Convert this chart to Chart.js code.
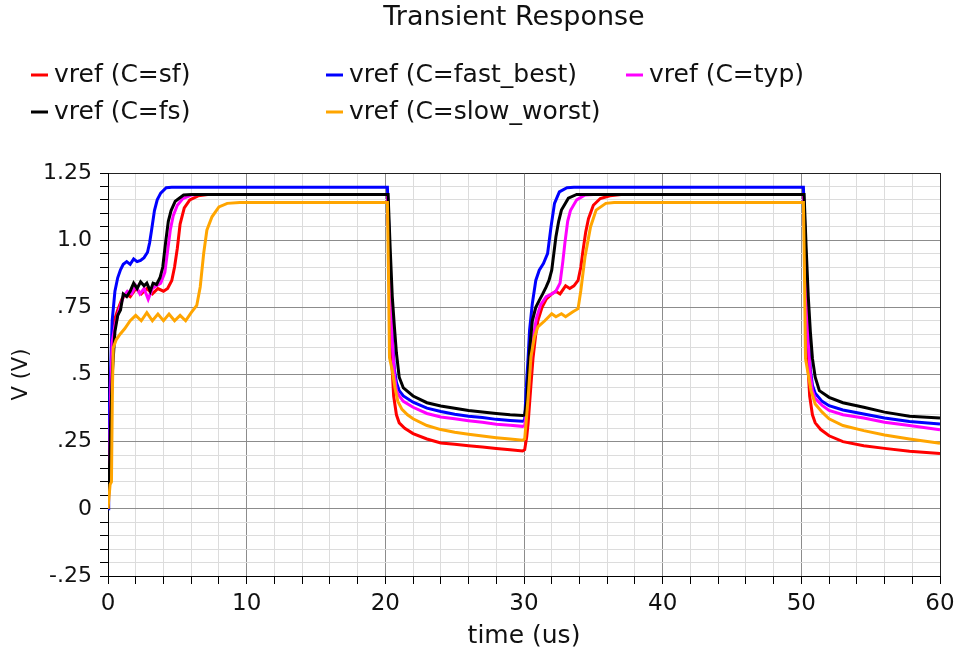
<!DOCTYPE html>
<html>
<head>
<meta charset="utf-8">
<title>Transient Response</title>
<script src="https://cdn.jsdelivr.net/npm/chart.js@4.4.1/dist/chart.umd.min.js"></script>
<style>
  html, body { margin: 0; padding: 0; background: #fff; }
  #wrap { width: 957px; height: 657px; }
</style>
</head>
<body>
<div id="wrap"><canvas id="tranChart" width="957" height="657"></canvas></div>
<script>
// corner names, same order as the datasets below
var corners = ['sf', 'fast_best', 'typ', 'fs', 'slow_worst'];
var cornerColors = ['#ff0000', '#0000ff', '#ff00ff', '#000000', '#ffa500'];

// vref waveforms, [time (us), volts]
var vrefSf = [
    [0, 0], [0.1, 0.12], [0.2, 0.38], [0.3, 0.62], [0.45, 0.70], [0.7, 0.74], [1.0, 0.78], [1.3, 0.80],
    [1.6, 0.79], [2.0, 0.82], [2.4, 0.80], [2.8, 0.82], [3.2, 0.80], [3.6, 0.82], [4.0, 0.81], [4.3, 0.82],
    [4.6, 0.85], [4.8, 0.90], [5.0, 0.97], [5.2, 1.06], [5.5, 1.12], [5.9, 1.15], [6.5, 1.165], [7.2, 1.17],
    [20.15, 1.17], [20.25, 1.0], [20.35, 0.75], [20.45, 0.56], [20.6, 0.42], [20.8, 0.35], [21.0, 0.32],
    [21.4, 0.30], [22, 0.28], [23, 0.26], [24, 0.245], [25, 0.24], [26, 0.235], [27, 0.23], [28, 0.225],
    [29, 0.22], [29.9, 0.215],
    [30.05, 0.22], [30.2, 0.27], [30.3, 0.32], [30.5, 0.46], [30.65, 0.56], [30.85, 0.65], [31.0, 0.70],
    [31.3, 0.75], [31.6, 0.78], [32.0, 0.80], [32.3, 0.81], [32.6, 0.80], [33.0, 0.83], [33.3, 0.82],
    [33.6, 0.83], [33.9, 0.85], [34.1, 0.90], [34.25, 0.96], [34.45, 1.03], [34.65, 1.08], [35.0, 1.13],
    [35.5, 1.155], [36.2, 1.165], [37, 1.17],
    [50.15, 1.17], [50.25, 1.0], [50.35, 0.75], [50.45, 0.56], [50.6, 0.42], [50.8, 0.35], [51.0, 0.32],
    [51.4, 0.295], [52, 0.272], [53, 0.25], [54.5, 0.235], [56, 0.225], [57.8, 0.214], [60, 0.206]
];

var vrefFastBest = [
    [0, 0], [0.05, 0.27], [0.15, 0.45], [0.3, 0.70], [0.5, 0.81], [0.7, 0.86], [0.9, 0.89], [1.1, 0.91],
    [1.35, 0.92], [1.6, 0.91], [1.85, 0.93], [2.1, 0.92], [2.35, 0.925], [2.6, 0.935], [2.85, 0.955],
    [3.0, 0.99], [3.15, 1.04], [3.35, 1.11], [3.55, 1.15], [3.8, 1.175], [4.2, 1.195], [4.6, 1.197],
    [20.15, 1.197], [20.25, 1.05], [20.35, 0.82], [20.5, 0.64], [20.65, 0.52], [20.8, 0.47], [21.0, 0.44],
    [21.3, 0.42], [22, 0.397], [23, 0.375], [24, 0.362], [25, 0.352], [26, 0.345], [27, 0.34], [28, 0.333],
    [29, 0.329], [29.9, 0.326],
    [30.05, 0.33], [30.15, 0.44], [30.3, 0.565], [30.4, 0.664], [30.6, 0.764], [30.85, 0.85], [31.1, 0.888],
    [31.4, 0.913], [31.7, 0.95], [31.95, 1.05], [32.2, 1.137], [32.55, 1.18], [33.1, 1.195], [33.6, 1.197],
    [50.15, 1.197], [50.25, 1.05], [50.35, 0.82], [50.5, 0.64], [50.65, 0.52], [50.8, 0.46], [51, 0.43],
    [51.5, 0.40], [52, 0.384], [53, 0.368], [54.5, 0.353], [56, 0.338], [57.8, 0.325], [60, 0.316]
];

var vrefTyp = [
    [0, 0], [0.1, 0.15], [0.2, 0.45], [0.3, 0.62], [0.5, 0.68], [0.8, 0.74], [1.1, 0.79], [1.4, 0.81],
    [1.7, 0.80], [2.0, 0.83], [2.3, 0.80], [2.6, 0.82], [2.9, 0.78], [3.2, 0.82], [3.5, 0.83], [3.8, 0.84],
    [4.1, 0.88], [4.3, 0.96], [4.5, 1.04], [4.7, 1.09], [5.0, 1.13], [5.4, 1.155], [6.0, 1.168], [6.5, 1.17],
    [20.15, 1.17], [20.25, 1.0], [20.35, 0.8], [20.5, 0.62], [20.65, 0.5], [20.8, 0.44], [21.0, 0.42],
    [21.3, 0.40], [22, 0.378], [23, 0.355], [24, 0.342], [25, 0.335], [26, 0.328], [27, 0.322], [28, 0.315],
    [29, 0.311], [29.9, 0.307],
    [30.05, 0.31], [30.2, 0.37], [30.35, 0.47], [30.5, 0.565], [30.7, 0.65], [30.9, 0.71], [31.2, 0.76],
    [31.6, 0.79], [32.0, 0.80], [32.3, 0.81], [32.6, 0.84], [32.8, 0.92], [32.95, 0.99], [33.15, 1.07],
    [33.35, 1.11], [33.8, 1.15], [34.4, 1.168], [35, 1.17],
    [50.15, 1.17], [50.25, 1.0], [50.35, 0.8], [50.5, 0.62], [50.65, 0.5], [50.8, 0.44], [51, 0.41],
    [51.5, 0.385], [52, 0.366], [53, 0.35], [54.5, 0.338], [56, 0.322], [57.8, 0.31], [60, 0.294]
];

var vrefFs = [
    [0, 0], [0.1, 0.14], [0.2, 0.35], [0.33, 0.52], [0.5, 0.66], [0.7, 0.72], [0.9, 0.74], [1.1, 0.80],
    [1.35, 0.79], [1.6, 0.81], [1.85, 0.84], [2.1, 0.82], [2.35, 0.845], [2.6, 0.83], [2.8, 0.84],
    [3.05, 0.81], [3.25, 0.84], [3.5, 0.835], [3.75, 0.86], [3.95, 0.90], [4.15, 0.99], [4.35, 1.07],
    [4.55, 1.11], [4.85, 1.145], [5.45, 1.168], [6, 1.17],
    [20.2, 1.17], [20.35, 0.97], [20.5, 0.79], [20.65, 0.68], [20.8, 0.58], [21, 0.49], [21.3, 0.45],
    [22, 0.42], [23, 0.395], [24, 0.383], [25, 0.374], [26, 0.366], [27, 0.36], [28, 0.355], [29, 0.35],
    [29.9, 0.347],
    [30.05, 0.35], [30.2, 0.40], [30.4, 0.59], [30.6, 0.70], [30.85, 0.75], [31.1, 0.776], [31.35, 0.80],
    [31.6, 0.826], [31.8, 0.85], [32.0, 0.888], [32.15, 0.95], [32.3, 1.012], [32.5, 1.07], [32.7, 1.112],
    [33.2, 1.156], [33.8, 1.17],
    [50.2, 1.17], [50.35, 0.97], [50.5, 0.79], [50.65, 0.66], [50.8, 0.56], [51, 0.49], [51.3, 0.44],
    [52, 0.415], [53, 0.395], [54.5, 0.378], [56, 0.36], [57.8, 0.345], [60, 0.338]
];

var vrefSlowWorst = [
    [0, 0], [0.15, 0.09], [0.25, 0.10], [0.32, 0.45], [0.38, 0.60], [0.6, 0.63], [0.87, 0.65], [1.2, 0.67],
    [1.6, 0.70], [2.0, 0.72], [2.4, 0.70], [2.8, 0.73], [3.2, 0.70], [3.6, 0.725], [4.0, 0.70], [4.4, 0.725],
    [4.8, 0.70], [5.2, 0.72], [5.6, 0.70], [6.0, 0.73], [6.4, 0.757], [6.65, 0.826], [6.9, 0.951],
    [7.13, 1.037], [7.5, 1.087], [8.0, 1.124], [8.6, 1.137], [9.5, 1.14],
    [20.15, 1.14], [20.22, 0.90], [20.3, 0.563], [20.5, 0.515], [20.7, 0.45], [20.9, 0.40], [21.2, 0.37],
    [21.6, 0.35], [22, 0.335], [23, 0.31], [24, 0.295], [25, 0.285], [26, 0.278], [27, 0.271], [28, 0.265],
    [29, 0.26], [29.9, 0.255],
    [30.05, 0.26], [30.15, 0.32], [30.3, 0.415], [30.5, 0.565], [30.75, 0.64], [31.0, 0.677], [31.5, 0.70],
    [32.0, 0.726], [32.3, 0.715], [32.7, 0.726], [33.0, 0.715], [33.5, 0.733], [33.9, 0.745], [34.1, 0.813],
    [34.4, 0.938], [34.8, 1.05], [35.2, 1.112], [35.9, 1.137], [36.5, 1.14],
    [50.15, 1.14], [50.22, 0.90], [50.3, 0.56], [50.5, 0.50], [50.7, 0.44], [51, 0.39], [51.5, 0.36],
    [52, 0.335], [53, 0.31], [54.5, 0.291], [56, 0.275], [57.8, 0.26], [60, 0.244]
];

var waveforms = [vrefSf, vrefFastBest, vrefTyp, vrefFs, vrefSlowWorst];

// labelled ticks on both axes
var yTickValues = [-0.25, 0, 0.25, 0.5, 0.75, 1.0, 1.25];
var yTickLabels = ['-.25', '0', '.25', '.5', '.75', '1.0', '1.25'];
var xTickValues = [0, 10, 20, 30, 40, 50, 60];
var xTickLabels = ['0', '10', '20', '30', '40', '50', '60'];

var chartTitle = 'Transient Response';

var FONT = "'DejaVu Sans', 'Liberation Sans', sans-serif";
var TEXT = '#111';

function labelFor(value, values, labels) {
    for (var i = 0; i < values.length; i++) {
        if (Math.abs(values[i] - value) < 1e-6) return labels[i];
    }
    return '';
}

// grid: light minor lines, grey majors, dark frame at the far edges
function gridColor(value, values, edge) {
    if (Math.abs(value - edge) < 1e-6) return '#222';
    return labelFor(value, values, values) !== '' ? '#8c8c8c' : '#dcdcdc';
}

// title over the plot plus a two-row legend under it
var headerPlugin = {
    id: 'header',
    afterDraw: function (chart) {
        var ctx = chart.ctx;
        var slots = [[31, 75], [326, 75], [626, 75], [31, 112], [326, 112]];
        ctx.save();
        ctx.fillStyle = TEXT;
        ctx.textBaseline = 'middle';
        ctx.textAlign = 'center';
        ctx.font = '27px ' + FONT;
        ctx.fillText(chartTitle, 514, 18);

        ctx.font = '25px ' + FONT;
        ctx.textAlign = 'left';
        chart.data.datasets.forEach(function (ds, i) {
            var x = slots[i][0], y = slots[i][1];
            ctx.strokeStyle = ds.borderColor;
            ctx.lineWidth = 3;
            ctx.beginPath();
            ctx.moveTo(x, y);
            ctx.lineTo(x + 17, y);
            ctx.stroke();
            ctx.fillStyle = TEXT;
            ctx.fillText(ds.label, x + 23, y);
        });
        ctx.restore();
    }
};

var datasets = corners.map(function (c, i) {
    return {
        label: 'vref (C=' + c + ')',
        data: waveforms[i],
        borderColor: cornerColors[i],
        backgroundColor: cornerColors[i],
        borderWidth: 3,
        pointRadius: 0,
        tension: 0,
        fill: false,
        order: corners.length - i   // later corners paint on top
    };
});

var ctx = document.getElementById('tranChart').getContext('2d');
var tranChart = new Chart(ctx, {
    type: 'line',
    data: { datasets: datasets },
    plugins: [headerPlugin],
    options: {
        responsive: false,
        animation: false,
        layout: { padding: { left: 0, right: 0, top: 173, bottom: 0 } },
        scales: {
            x: {
                type: 'linear',
                min: 0,
                max: 60,
                afterFit: function (scale) {
                    scale.height = 81;
                    scale.paddingRight = 17;   // room for the "60" label
                },
                ticks: {
                    stepSize: 2,
                    autoSkip: false,
                    maxRotation: 0,
                    padding: 6,
                    color: TEXT,
                    font: { family: FONT, size: 23 },
                    callback: function (v) { return labelFor(v, xTickValues, xTickLabels); }
                },
                grid: {
                    color: function (c) { return gridColor(c.tick.value, xTickValues, 60); },
                    tickColor: '#000',
                    tickLength: 8,
                    lineWidth: 1
                },
                border: { color: '#000', width: 1 },
                title: {
                    display: true,
                    text: 'time (us)',
                    color: TEXT,
                    font: { family: FONT, size: 25 },
                    padding: { top: 0, bottom: 6 }
                }
            },
            y: {
                min: -0.25,
                max: 1.25,
                afterFit: function (scale) { scale.width = 108; },
                ticks: {
                    stepSize: 0.05,
                    autoSkip: false,
                    padding: 8,
                    color: TEXT,
                    font: { family: FONT, size: 22 },
                    callback: function (v) { return labelFor(v, yTickValues, yTickLabels); }
                },
                grid: {
                    color: function (c) { return gridColor(c.tick.value, yTickValues, 1.25); },
                    tickColor: '#000',
                    tickLength: 8,
                    lineWidth: 1
                },
                border: { color: '#000', width: 1 },
                title: {
                    display: true,
                    text: 'V (V)',
                    color: TEXT,
                    font: { family: FONT, size: 21 },
                    padding: { top: 9, bottom: 0 }
                }
            }
        },
        plugins: {
            legend: { display: false },
            tooltip: { enabled: false },
            title: { display: false }
        }
    }
});
</script>
</body>
</html>
